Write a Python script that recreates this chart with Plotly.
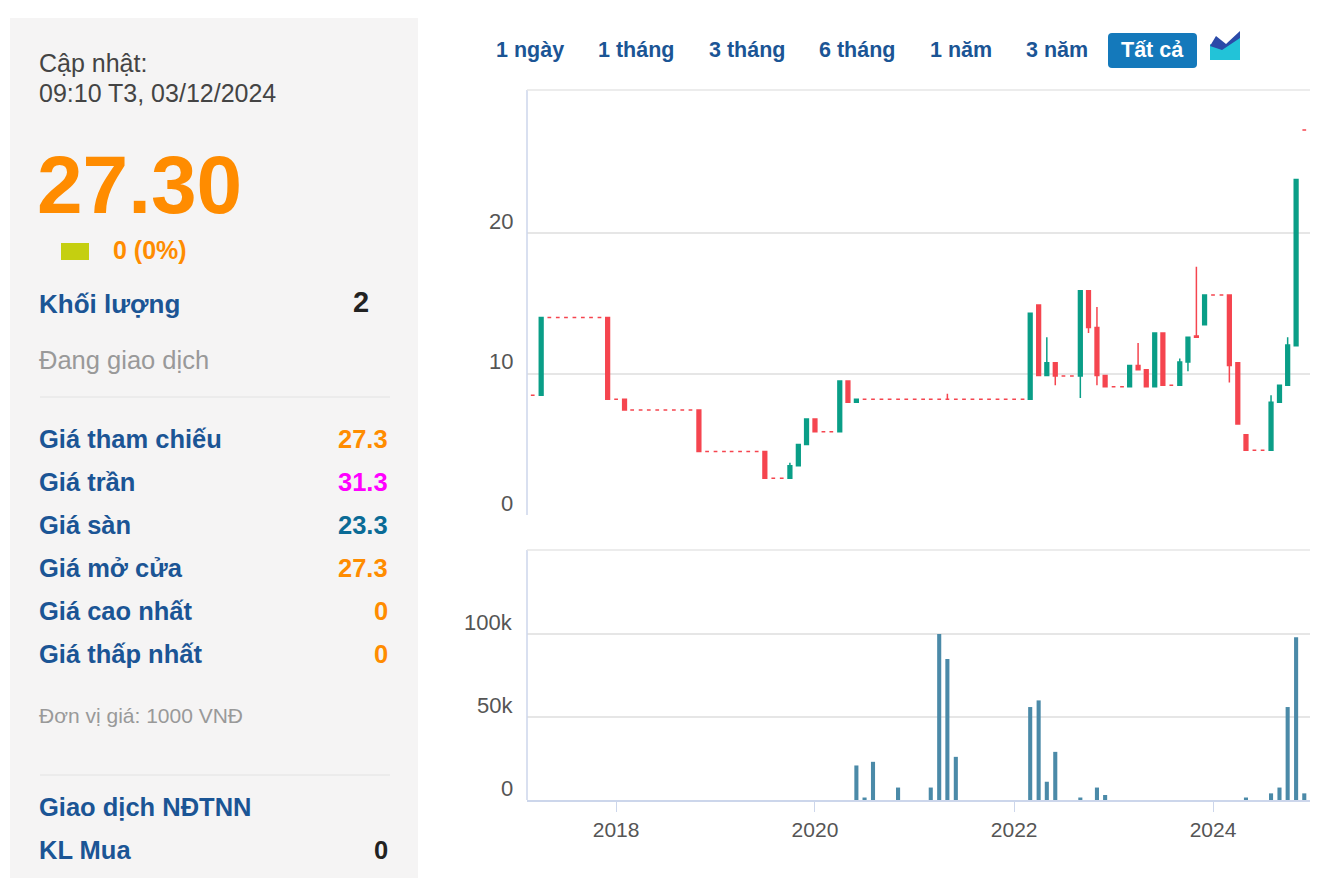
import plotly.graph_objects as go
import pandas as pd

# Monthly candles, Mar 2017 .. Dec 2024
dates = pd.date_range("2017-03-01", "2024-12-01", freq="MS")
open_ = [
    8.5, 8.5, 14.0, 14.0, 14.0, 14.0, 14.0, 14.0, 14.0, 14.0,           # 2017 Mar-Dec
    8.2, 8.2, 7.45, 7.45, 7.45, 7.45, 7.45, 7.45, 7.45, 7.45, 7.45, 4.5,  # 2018
    4.5, 4.5, 4.5, 4.5, 4.5, 4.5, 4.5, 2.6, 2.6, 2.6, 3.5, 5.0,          # 2019
    6.8, 5.9, 5.9, 5.9, 9.5, 8.0, 8.2, 8.2, 8.2, 8.2, 8.2, 8.2,          # 2020
    8.2, 8.2, 8.2, 8.2, 8.2, 8.2, 8.2, 8.2, 8.2, 8.2, 8.2, 8.2,          # 2021
    8.2, 8.2, 8.2, 14.9, 9.9, 10.8, 9.85, 9.85, 9.85, 15.9, 13.3, 9.9,   # 2022
    9.1, 9.1, 9.1, 10.6, 10.3, 9.1, 12.9, 9.2, 9.2, 10.85, 12.7, 13.5,   # 2023
    15.6, 15.6, 15.6, 10.8, 5.7, 4.6, 4.6, 4.6, 8.0, 9.2, 12.0, 27.3,    # 2024
]
close = [
    8.5, 14.0, 14.0, 14.0, 14.0, 14.0, 14.0, 14.0, 14.0, 8.2,
    8.2, 7.45, 7.45, 7.45, 7.45, 7.45, 7.45, 7.45, 7.45, 7.45, 4.5, 4.5,
    4.5, 4.5, 4.5, 4.5, 4.5, 4.5, 2.6, 2.6, 2.6, 3.5, 5.0, 6.8,
    5.9, 5.9, 5.9, 9.5, 8.0, 8.2, 8.2, 8.2, 8.2, 8.2, 8.2, 8.2,
    8.2, 8.2, 8.2, 8.2, 8.2, 8.2, 8.2, 8.2, 8.2, 8.2, 8.2, 8.2,
    8.2, 8.2, 14.3, 9.9, 10.8, 9.85, 9.85, 9.85, 15.9, 13.3, 9.9, 9.1,
    9.1, 9.1, 10.6, 10.3, 9.1, 12.9, 9.2, 9.2, 10.85, 12.6, 12.6, 15.6,
    15.6, 15.6, 10.6, 6.45, 4.6, 4.6, 4.6, 8.0, 9.2, 12.05, 23.8, 27.3,
]
high = [
    8.5, 14.0, 14.0, 14.0, 14.0, 14.0, 14.0, 14.0, 14.0, 14.0,
    8.2, 8.2, 7.45, 7.45, 7.45, 7.45, 7.45, 7.45, 7.45, 7.45, 7.45, 4.5,
    4.5, 4.5, 4.5, 4.5, 4.5, 4.5, 4.5, 2.6, 2.6, 3.7, 5.0, 6.8,
    6.8, 5.9, 5.9, 9.5, 9.5, 8.2, 8.2, 8.2, 8.2, 8.2, 8.2, 8.2,
    8.2, 8.2, 8.2, 8.2, 8.6, 8.2, 8.2, 8.2, 8.2, 8.2, 8.2, 8.2,
    8.2, 8.2, 14.3, 14.9, 12.6, 10.8, 9.85, 9.85, 15.9, 15.9, 14.75, 9.9,
    9.1, 9.1, 10.6, 12.2, 10.3, 12.9, 12.9, 9.2, 11.1, 12.6, 17.6, 15.6,
    15.6, 15.6, 15.6, 10.8, 5.7, 4.6, 4.6, 8.5, 9.2, 12.6, 23.8, 27.3,
]
low = [
    8.5, 8.5, 14.0, 14.0, 14.0, 14.0, 14.0, 14.0, 14.0, 8.2,
    8.2, 7.45, 7.45, 7.45, 7.45, 7.45, 7.45, 7.45, 7.45, 7.45, 4.5, 4.5,
    4.5, 4.5, 4.5, 4.5, 4.5, 4.5, 2.6, 2.6, 2.6, 2.6, 3.5, 5.0,
    5.9, 5.9, 5.9, 5.9, 8.0, 8.0, 8.2, 8.2, 8.2, 8.2, 8.2, 8.2,
    8.2, 8.2, 8.2, 8.2, 8.2, 8.2, 8.2, 8.2, 8.2, 8.2, 8.2, 8.2,
    8.2, 8.2, 8.2, 9.9, 9.9, 9.2, 9.85, 9.85, 8.3, 12.9, 9.2, 9.1,
    9.1, 9.1, 9.1, 10.3, 9.1, 9.1, 9.2, 9.2, 9.2, 10.2, 12.6, 13.5,
    15.6, 15.6, 9.4, 6.45, 4.6, 4.6, 4.6, 4.6, 8.0, 9.2, 12.0, 27.3,
]
vol_dates = ["2020-06-01", "2020-07-01", "2020-08-01", "2020-11-01", "2021-03-01",
             "2021-04-01", "2021-05-01", "2021-06-01", "2022-03-01", "2022-04-01",
             "2022-05-01", "2022-06-01", "2022-09-01", "2022-11-01", "2022-12-01",
             "2024-05-01", "2024-08-01", "2024-09-01", "2024-10-01", "2024-11-01",
             "2024-12-01"]
volume = [20800, 1500, 23000, 7500, 7500, 100000, 85000, 26000, 56000, 60000,
          11000, 29000, 1500, 7500, 3000, 1500, 4000, 7500, 56000, 98000, 4000]

price_ticks = [0, 10, 20]
vol_ticks = [0, 50000, 100000]
vol_tick_text = ["0", "50k", "100k"]
year_ticks = ["2018-01-01", "2020-01-01", "2022-01-01", "2024-01-01"]
year_text = ["2018", "2020", "2022", "2024"]

W, H = 1318, 878
OFF = 8  # page body margin
def px(x): return (x - OFF) / W
def py(y): return 1 - (y - OFF) / H

FONT = "Liberation Sans, Arial, sans-serif"
GREEN, RED = "#0a9e87", "#f5454f"

df = pd.DataFrame(dict(d=dates, o=open_, h=high, l=low, c=close))
moving = df[df.o != df.c]
flat = df[df.o == df.c]

fig = go.Figure()
for part, inc in ((moving, GREEN), (flat, RED)):
    fig.add_trace(go.Candlestick(
        x=part.d, open=part.o, high=part.h, low=part.l, close=part.c,
        increasing=dict(line=dict(color=inc, width=1.5), fillcolor=inc),
        decreasing=dict(line=dict(color=RED, width=1.5), fillcolor=RED),
        whiskerwidth=0, xaxis="x", yaxis="y", hoverinfo="skip"))
fig.add_trace(go.Bar(x=pd.to_datetime(vol_dates), y=volume, marker_color="#4b8aa8",
                     marker_line_width=0, width=1000*3600*24*15,
                     xaxis="x2", yaxis="y2"))

xr = ["2017-02-08", "2024-12-22"]
fig.update_layout(
    width=W, height=H, margin=dict(l=0, r=0, t=0, b=0),
    paper_bgcolor="white", plot_bgcolor="white", showlegend=False,
    font=dict(family=FONT),
    xaxis=dict(domain=[px(527), px(1310)], anchor="y", range=xr, type="date",
               showticklabels=False, showgrid=False, zeroline=False,
               rangeslider=dict(visible=False)),
    yaxis=dict(domain=[py(515), py(90)], anchor="x", range=[0, 30.14],
               tickvals=price_ticks, showticklabels=False, gridcolor="#e6e6e6",
               gridwidth=1.5, zeroline=False),
    xaxis2=dict(domain=[px(527), px(1310)], anchor="y2", range=xr, type="date",
                matches="x", tickvals=year_ticks, ticktext=year_text,
                showgrid=False, ticks="outside", ticklen=10, tickcolor="#ccd6eb",
                showline=True, linecolor="#ccd6eb", linewidth=1.5,
                tickfont=dict(size=21, color="#555"), zeroline=False),
    yaxis2=dict(domain=[py(800), py(550)], anchor="x2", range=[0, 150600],
                tickvals=vol_ticks, showticklabels=False, gridcolor="#e6e6e6",
                gridwidth=1.5, zeroline=False),
)

shapes = []
shapes.append(dict(type="rect", xref="paper", yref="paper", x0=px(10), x1=px(418),
                   y0=py(890), y1=py(18), fillcolor="#f5f4f4", line_width=0, layer="below"))
for yy in (397, 775):
    shapes.append(dict(type="line", xref="paper", yref="paper", x0=px(40), x1=px(390),
                       y0=py(yy), y1=py(yy), line=dict(color="#e2e2e2", width=1)))
for (y0, y1) in ((90, 515), (550, 800)):
    shapes.append(dict(type="line", xref="paper", yref="paper", x0=px(527), x1=px(527),
                       y0=py(y0), y1=py(y1), line=dict(color="#ccd6eb", width=1.5)))
    shapes.append(dict(type="line", xref="paper", yref="paper", x0=px(527), x1=px(1310),
                       y0=py(y0), y1=py(y0), line=dict(color="#e6e6e6", width=1.5)))
shapes.append(dict(type="rect", xref="paper", yref="paper", x0=px(61), x1=px(89),
                   y0=py(260), y1=py(243), fillcolor="#c5cf10", line_width=0))
shapes.append(dict(type="path", xref="paper", yref="paper",
                   path=f"M {px(1112)},{py(33)} L {px(1193)},{py(33)} Q {px(1197)},{py(33)} {px(1197)},{py(37)} L {px(1197)},{py(64)} Q {px(1197)},{py(68)} {px(1193)},{py(68)} L {px(1112)},{py(68)} Q {px(1108)},{py(68)} {px(1108)},{py(64)} L {px(1108)},{py(37)} Q {px(1108)},{py(33)} {px(1112)},{py(33)} Z",
                   fillcolor="#1479bb", line_width=0))
shapes.append(dict(type="path", xref="paper", yref="paper",
                   path=f"M {px(1210)},{py(60)} L {px(1210)},{py(44)} L {px(1222)},{py(48)} L {px(1240)},{py(36)} L {px(1240)},{py(60)} Z",
                   fillcolor="#22c3d8", line_width=0))
shapes.append(dict(type="path", xref="paper", yref="paper",
                   path=f"M {px(1210)},{py(46)} L {px(1216)},{py(36)} L {px(1226)},{py(44)} L {px(1240)},{py(31)} L {px(1240)},{py(38)} L {px(1222)},{py(50)} L {px(1210)},{py(46)} Z",
                   fillcolor="#2b4aa8", line_width=0))
fig.update_layout(shapes=shapes)

ann = []
def T(x, y, text, size, color, bold=False, anchor="left"):
    ann.append(dict(xref="paper", yref="paper", x=px(x), y=py(y), text=f"<b>{text}</b>" if bold else text,
                    showarrow=False, xanchor=anchor, yanchor="middle", xshift=0,
                    font=dict(size=size, color=color, family=FONT)))

T(37, 63, "Cập nhật:", 25, "#444")
T(37, 93, "09:10 T3, 03/12/2024", 25, "#444")
T(35, 185, "27.30", 82, "#ff8c00", True)
T(111, 250, "0 (0%)", 25, "#ff8c00", True)
T(37, 304, "Khối lượng", 26, "#1b5595", True)
T(371, 302, "2", 29, "#222", True, "right")
T(37, 360, "Đang giao dịch", 25.5, "#999")
rows = [("Giá tham chiếu", "27.3", "#ff8c00"), ("Giá trần", "31.3", "#ff00ff"),
        ("Giá sàn", "23.3", "#0a6b96"), ("Giá mở cửa", "27.3", "#ff8c00"),
        ("Giá cao nhất", "0", "#ff8c00"), ("Giá thấp nhất", "0", "#ff8c00")]
for i, (lab, val, col) in enumerate(rows):
    y = 439 + i * 43
    T(37, y, lab, 25.5, "#1b5595", True)
    T(390, y, val, 25.5, col, True, "right")
T(37, 715, "Đơn vị giá: 1000 VNĐ", 21, "#999")
T(37, 807, "Giao dịch NĐTNN", 25.5, "#1b5595", True)
T(37, 850, "KL Mua", 25.5, "#1b5595", True)
T(390, 850, "0", 25.5, "#222", True, "right")

btns = [("1 ngày", 530), ("1 tháng", 636), ("3 tháng", 747), ("6 tháng", 857),
        ("1 năm", 961), ("3 năm", 1057)]
for lab, cx in btns:
    T(cx, 50, lab, 21.5, "#1b5595", True, "center")
T(1152, 50, "Tất cả", 21.5, "white", True, "center")

for v in price_ticks:
    T(515, 515 - v * 14.1 - 12, str(v), 22, "#555", False, "right")
for v, t in zip(vol_ticks, vol_tick_text):
    T(515, 800 - v / 100000 * 166 - 12, t, 22, "#555", False, "right")

fig.update_layout(annotations=ann)
fig.write_html("out.html")
